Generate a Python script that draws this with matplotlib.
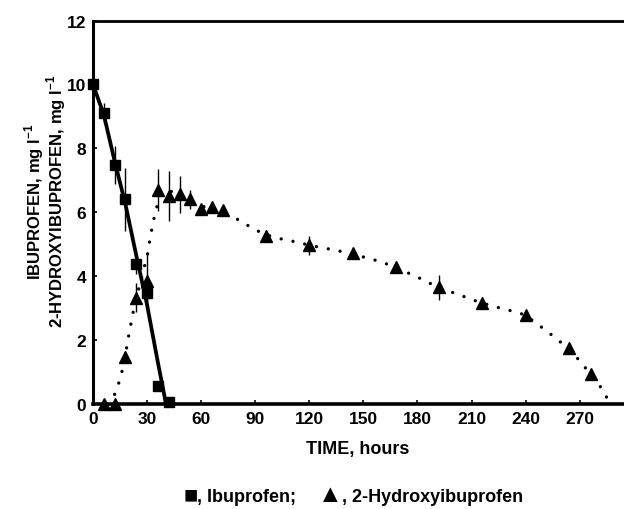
import matplotlib
matplotlib.use("Agg")
import matplotlib.pyplot as plt

# ---- data ----
ibu_t = [0, 6, 12, 18, 24, 30, 36, 42]
ibu_c = [10.0, 9.1, 7.47, 6.4, 4.37, 3.48, 0.55, 0.05]
ibu_err = [0.0, 0.32, 0.6, 1.0, 0.3, 0.3, 0.15, 0.0]

hyd_t = [6, 12, 18, 24, 30, 36, 42, 48, 54, 60, 66, 72, 96, 120, 144, 168, 192, 216, 240, 264, 276]
hyd_c = [0.0, 0.0, 1.46, 3.33, 3.85, 6.69, 6.5, 6.56, 6.4, 6.1, 6.15, 6.07, 5.26, 4.97, 4.71, 4.3, 3.65, 3.16, 2.8, 1.74, 0.94]
hyd_err = [0.0, 0.0, 0.1, 0.45, 0.9, 0.65, 0.78, 0.57, 0.3, 0.1, 0.1, 0.1, 0.15, 0.3, 0.15, 0.1, 0.4, 0.1, 0.1, 0.1, 0.1]

# fitted curves
ibu_fit_t = [0, 6, 12, 18, 24, 30, 36, 40.5]
ibu_fit_c = [10.0, 9.05, 7.6, 6.25, 4.65, 3.1, 1.3, 0.0]

hyd_fit_t = [8, 12, 14, 16, 18, 20, 22, 24, 26, 28, 30, 32, 34, 36, 38, 40, 44, 48, 54, 60, 66, 72,
             78, 84, 90, 96, 102, 108, 114, 120, 126, 132, 138, 144, 150, 156, 162, 168, 174, 180,
             186, 192, 198, 204, 210, 216, 222, 228, 234, 240, 246, 252, 258, 264, 270, 276, 282, 287]
hyd_fit_c = [0.0, 0.3, 0.6, 1.0, 1.55, 2.2, 2.8, 3.3, 3.75, 4.2, 4.6, 5.3, 5.85, 6.3, 6.55, 6.65, 6.65, 6.55, 6.35, 6.2, 6.1, 6.0,
             5.85, 5.65, 5.45, 5.3, 5.19, 5.13, 5.05, 4.97, 4.9, 4.84, 4.77, 4.7, 4.6, 4.51, 4.4, 4.28, 4.12, 3.97,
             3.8, 3.65, 3.52, 3.4, 3.27, 3.16, 3.06, 2.97, 2.89, 2.78, 2.52, 2.27, 2.0, 1.72, 1.35, 0.93, 0.5, 0.0]

xticks = [0, 30, 60, 90, 120, 150, 180, 210, 240, 270]
yticks = [0, 2, 4, 6, 8, 10, 12]

plt.rcParams['font.family'] = ['Liberation Sans', 'DejaVu Sans']
plt.rcParams['font.weight'] = 'bold'
plt.rcParams['mathtext.fontset'] = 'custom'
plt.rcParams['mathtext.rm'] = 'Liberation Sans'
plt.rcParams['mathtext.bf'] = 'Liberation Sans:bold'

W, H = 624, 510
fig = plt.figure(figsize=(W/100, H/100), dpi=100)
ax = fig.add_axes([93/W, 1-405/H, (623-93)/W, (405-21.5)/H])

ax.plot(ibu_fit_t, ibu_fit_c, color='black', lw=2.7, solid_capstyle='butt', zorder=2)
ax.plot(hyd_fit_t, hyd_fit_c, color='black', lw=2.4, linestyle=(0, (0.01, 3.6)),
        dash_capstyle='round', zorder=2)

ax.errorbar(ibu_t, ibu_c, yerr=ibu_err, fmt='s', color='black', ms=7.4, elinewidth=1.0,
            capsize=0, zorder=2.4, clip_on=False)
ax.errorbar(hyd_t, hyd_c, yerr=hyd_err, fmt='^', color='black', ms=8.6, elinewidth=1.0,
            capsize=0, zorder=2.4, clip_on=False)

ax.set_xlim(0, 294)
ax.set_ylim(0, 12)
ax.set_xticks(xticks)
ax.set_yticks(yticks)
ax.tick_params(direction='in', length=3, width=1.2, labelsize=12.5, pad=5)
for lab in ax.get_xticklabels() + ax.get_yticklabels():
    lab.set_fontweight('bold')

ax.spines['right'].set_visible(False)
ax.spines['left'].set_linewidth(2.2)
ax.spines['bottom'].set_linewidth(2.6)
ax.spines['top'].set_linewidth(2.0)

ax.set_xlabel('TIME, hours', fontsize=13, fontweight='bold', labelpad=10)
ax.set_ylabel('IBUPROFEN, mg l$^{\\mathregular{-1}}$\n2-HYDROXYIBUPROFEN, mg l$^{\\mathregular{-1}}$',
              fontsize=12, fontweight='bold', linespacing=0.9)
ax.yaxis.set_label_coords((68-93)/530, 0.53)

yb = 1 - 502/H
fig.text(184/W, yb, '\u25A0', fontsize=17, va='baseline', ha='left')
fig.text(197/W, yb, ', Ibuprofen;', fontsize=13, fontweight='bold', va='baseline', ha='left')
fig.text(318/W, yb, '\u25B2', fontsize=18, va='baseline', ha='left')
fig.text(342/W, yb, ', 2-Hydroxyibuprofen', fontsize=13, fontweight='bold', va='baseline', ha='left')

fig.savefig('out.png', dpi=100)
